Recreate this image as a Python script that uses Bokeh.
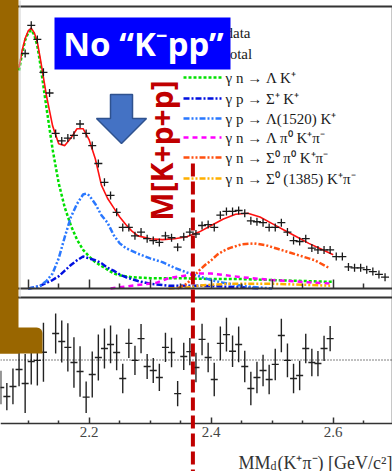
import math
from bokeh.plotting import figure
from bokeh.models import Range1d, LinearAxis, FixedTicker, Span, PrintfTickFormatter
from bokeh.core.properties import value
from bokeh.embed import file_html
from bokeh.resources import INLINE

# ---------------- measured spectrum: MM_d(K+ pi-) ----------------
data_mm = [2.095, 2.105, 2.115, 2.125, 2.135, 2.145, 2.155, 2.165, 2.175, 2.185,
           2.195, 2.205, 2.215, 2.225, 2.235, 2.245, 2.255, 2.265, 2.275, 2.285,
           2.295, 2.305, 2.315, 2.325, 2.335, 2.345, 2.355, 2.365, 2.375, 2.385,
           2.395, 2.405, 2.415, 2.425, 2.435, 2.445, 2.455, 2.465, 2.475, 2.485,
           2.495, 2.505, 2.515, 2.525, 2.535, 2.545, 2.555, 2.565, 2.575, 2.585,
           2.595, 2.605, 2.615, 2.625, 2.635, 2.645, 2.655, 2.665, 2.675, 2.685]
data_counts = [250, 280, 265, 230, 208, 165, 157, 160, 163, 175,
               165, 152, 133, 113, 99, 81, 65, 65, 56, 60,
               53, 51, 49, 56, 54, 44, 55, 60, 58, 67,
               68, 65, 78, 82, 82, 83, 80, 72, 71, 70,
               65, 65, 70, 60, 51, 50, 53, 43, 41, 41,
               41, 34, 34, 23, 22, 22, 20, 18, 15, 12]

# ---------------- fit: total and components ----------------
total_mm = [2.085, 2.09, 2.095, 2.10, 2.105, 2.11, 2.115, 2.12, 2.13, 2.14, 2.15, 2.16,
            2.17, 2.18, 2.19, 2.20, 2.21, 2.22, 2.23, 2.24, 2.25, 2.26, 2.27, 2.28,
            2.30, 2.32, 2.34, 2.36, 2.38, 2.40, 2.42, 2.44, 2.46, 2.48, 2.50, 2.52,
            2.54, 2.56, 2.58, 2.60]
total_fit = [235, 253, 266, 274, 277, 272, 262, 244, 205, 173, 154, 152,
             160, 170, 170, 158, 138, 110, 96, 86, 76, 68, 61, 56,
             53, 52, 53, 55, 60, 67, 74, 79, 80, 76, 69, 62,
             55, 48, 42, 36]

lam_k_mm = [2.085, 2.09, 2.095, 2.10, 2.105, 2.11, 2.115, 2.12, 2.125, 2.13, 2.14, 2.15,
            2.16, 2.17, 2.18, 2.19, 2.20, 2.21, 2.22, 2.23, 2.24, 2.25, 2.27, 2.30,
            2.35, 2.40, 2.45, 2.50, 2.55, 2.60]
lam_k_fit = [232, 250, 264, 272, 275, 270, 258, 238, 215, 192, 148, 112,
             86, 67, 52, 41, 34, 28, 24, 20, 16, 14, 12, 11,
             11, 10, 10, 9, 8, 7]

sig_k_mm = [2.10, 2.11, 2.12, 2.13, 2.14, 2.15, 2.16, 2.17, 2.18, 2.19, 2.20, 2.21,
            2.22, 2.23, 2.24, 2.25, 2.26, 2.27, 2.28, 2.30, 2.33, 2.38, 2.42, 2.46, 2.48]
sig_k_fit = [0, 1, 3, 6, 9, 13, 19, 25, 30, 34, 32, 30,
             27, 22, 19, 15, 12, 10, 8, 5, 3, 3, 2, 1, 0]

l1520_mm = [2.10, 2.11, 2.12, 2.13, 2.14, 2.15, 2.16, 2.17, 2.18, 2.19, 2.195, 2.20,
            2.21, 2.22, 2.23, 2.24, 2.25, 2.26, 2.28, 2.30, 2.32, 2.34, 2.36, 2.38,
            2.40, 2.42, 2.44, 2.46, 2.48, 2.50]
l1520_fit = [0, 1, 3, 8, 16, 32, 55, 76, 90, 100, 101, 99,
             90, 78, 70, 57, 48, 43, 37, 32, 28, 22, 17, 13,
             9, 6, 4, 2, 1, 0]

lpi_mm = [2.235, 2.27, 2.31, 2.33, 2.36, 2.38, 2.40, 2.45, 2.50, 2.55, 2.60]
lpi_fit = [0, 3, 6, 11, 14, 16, 16, 12, 9, 7, 5]

spi_mm = [2.345, 2.36, 2.37, 2.38, 2.39, 2.40, 2.41, 2.42, 2.43, 2.45, 2.47, 2.49,
          2.51, 2.53, 2.55, 2.57, 2.59, 2.595]
spi_fit = [0, 5, 12, 19, 25, 30, 36, 40, 43, 47, 48, 46,
           42, 38, 34, 30, 23, 22]

s1385_mm = [2.33, 2.36, 2.38, 2.40, 2.43, 2.46, 2.50, 2.55, 2.595]
s1385_fit = [0, 1, 3, 4, 5, 5, 5, 4, 3]

# ---------------- residuals ----------------
res_mm = [2.055, 2.065, 2.075, 2.085, 2.095, 2.105, 2.115, 2.125,
          2.145, 2.155, 2.165, 2.175, 2.185, 2.195, 2.205, 2.215, 2.225, 2.235,
          2.245, 2.255, 2.265, 2.275, 2.285, 2.295, 2.305, 2.315, 2.325, 2.335,
          2.345, 2.355, 2.365, 2.375, 2.385, 2.395, 2.405, 2.415, 2.425, 2.435,
          2.445, 2.455, 2.465, 2.475, 2.485, 2.495, 2.505, 2.515, 2.525, 2.535,
          2.545, 2.555, 2.565, 2.575, 2.585, 2.595]
res_val = [-1.31, -1.74, -1.26, -0.45, -1.12, -0.07, -0.02, 0.37,
           1.26, 0.88, 0.60, -0.12, -0.55, -1.77, -0.69, 0.12, 0.55, 0.74,
           0.36, -0.88, 0.79, -0.02, 1.02, -0.31, -0.50, -0.83, 0.60, 0.36,
           -1.60, 0.17, 0.40, -0.36, 0.98, 0.12, -0.93, 0.79, 1.21, 0.42,
           0.74, -0.31, -1.36, -0.83, -0.50, -0.93, -0.21, 1.17, -0.02, -0.88,
           -0.74, 0.55, -0.12, -0.17, 0.55, 1.02]
res_err = [0.80, 0.65, 0.85, 0.80, 1.40, 1.10, 1.20, 1.40,
           0.95, 1.00, 1.15, 1.20, 1.20, 0.75, 1.10, 1.10, 0.95, 0.90,
           0.85, 0.70, 0.70, 0.70, 0.70, 0.60, 0.60, 0.65, 0.70, 0.70,
           0.60, 0.65, 0.65, 0.70, 0.75, 0.70, 0.80, 0.80, 0.80, 0.75,
           0.85, 0.75, 0.80, 0.75, 0.75, 0.70, 0.75, 0.80, 0.80, 0.70,
           0.70, 0.70, 0.65, 0.60, 0.60, 0.60]

# axis ticks
x_major = [2.2, 2.4, 2.6]
x_minor = [2.05, 2.1, 2.15, 2.25, 2.3, 2.35, 2.45, 2.5, 2.55, 2.65]
top_major = [2.1, 2.2, 2.3, 2.4, 2.5, 2.6]
top_minor = [2.05, 2.15, 2.25, 2.35, 2.45, 2.55, 2.65]

kpp_threshold = 2.37   # M(K+) + 2 M(p)

legend_labels = ["data", "total", "γ n → Λ  K⁺", "γ p → Σ⁺ K⁺", "γ p → Λ(1520) K⁺",
                 "γ n → Λ π⁰ K⁺π⁻", "γ n → Σ⁰ π⁰ K⁺π⁻", "γ n → Σ⁰ (1385) K⁺π⁻"]

# ---------------- canvas geometry ----------------
W, H = 392, 471
X_REF, PX_REF, PX_PER_GEV = 2.2, 88.7, 610.0
PY_ZERO, PX_PER_COUNT = 288.0, 0.94        # upper panel: counts
PY_RES0, PX_PER_RES = 359.5, 21.0          # lower panel: residuals


def gx(px):
    return X_REF + (px - PX_REF) / PX_PER_GEV


def gy(py):
    return (PY_ZERO - py) / PX_PER_COUNT


p = figure(width=W, height=H, output_backend="svg", toolbar_location=None,
           x_range=Range1d(gx(0), gx(W)), y_range=Range1d(gy(H), gy(0)),
           x_axis_location=None, y_axis_location=None,
           min_border=0, min_border_left=0, min_border_right=0,
           min_border_top=0, min_border_bottom=0,
           outline_line_color=None, background_fill_color="white",
           border_fill_color="white")
p.grid.visible = False
p.extra_y_ranges = {"res": Range1d(-(H - PY_RES0) / PX_PER_RES, PY_RES0 / PX_PER_RES)}

serif = value("Liberation Serif")

# frame lines of the two panels
p.add_layout(Span(location=gy(6), dimension="width", line_color="#333333", line_width=2))
p.add_layout(Span(location=gy(297), dimension="width", line_color="#333333", line_width=2))
p.segment(x0=[gx(391)], y0=[gy(6)], x1=[gx(391)], y1=[gy(423)], line_color="#c8c8c8", line_width=1)
p.add_layout(Span(location=0, dimension="width", y_range_name="res",
                  line_color="black", line_dash="1 2", line_width=1))

# upper panel x axis (no labels)
top_axis = LinearAxis(fixed_location=0,
                      ticker=FixedTicker(ticks=top_major, minor_ticks=top_minor),
                      formatter=PrintfTickFormatter(format=""),
                      axis_line_color="#333333", axis_line_width=2,
                      major_tick_in=9, major_tick_out=0, minor_tick_in=5, minor_tick_out=0,
                      major_tick_line_color="#333333", minor_tick_line_color="#333333",
                      major_tick_line_width=1.5, minor_tick_line_width=1.5)
p.add_layout(top_axis, "below")

# lower panel x axis
bot_axis = LinearAxis(fixed_location=gy(423),
                      ticker=FixedTicker(ticks=x_major, minor_ticks=x_minor),
                      axis_line_color="#333333", axis_line_width=1.5,
                      major_tick_in=6, major_tick_out=0, minor_tick_in=3, minor_tick_out=0,
                      major_tick_line_color="#333333", minor_tick_line_color="#333333",
                      major_tick_line_width=1.5, minor_tick_line_width=1.5,
                      major_label_standoff=3,
                      major_label_text_font="Liberation Serif",
                      major_label_text_font_size="15px",
                      major_label_text_color="#444444")
p.add_layout(bot_axis, "below")

# ---------------- fit components ----------------
comp_style = [
    (lam_k_mm, lam_k_fit, "#00e000", "3 2"),
    (sig_k_mm, sig_k_fit, "#0010e0", "6 2 2 2"),
    (l1520_mm, l1520_fit, "#2a78ff", "6 2 2 2 2 2"),
    (lpi_mm, lpi_fit, "#ff00ff", "5 4"),
    (spi_mm, spi_fit, "#ff5010", "6 2 2 2 2 2"),
    (s1385_mm, s1385_fit, "#ffb000", "6 2 2 2 2 2"),
]
for xs, ys, col, dash in comp_style:
    p.line(xs, ys, line_color=col, line_width=2.5, line_dash=dash)

p.line(total_mm, total_fit, line_color="#ff1010", line_width=1.6)

# data points
p.scatter(data_mm, data_counts, marker="cross", size=8, line_color="#1a1a1a", line_width=1.3)

# residuals
res_lo = [v - e for v, e in zip(res_val, res_err)]
res_hi = [v + e for v, e in zip(res_val, res_err)]
p.segment(x0=res_mm, y0=res_lo, x1=res_mm, y1=res_hi, y_range_name="res",
          line_color="#222222", line_width=1.4)
p.scatter(res_mm, res_val, marker="dash", size=7, y_range_name="res",
          line_color="#222222", line_width=1.4)

# ---------------- legend ----------------
row_py = [32, 53, 77, 98, 118, 137, 157, 178]
sample_styles = [None, ("#ff1010", None)] + [(c, d) for _, _, c, d in comp_style]
for py, style in zip(row_py, sample_styles):
    if style is None:
        p.scatter([gx(202)], [gy(py)], marker="cross", size=8, line_color="#1a1a1a")
    else:
        col, dash = style
        kw = dict(line_color=col, line_width=2.5)
        if dash:
            kw["line_dash"] = dash
        p.line([gx(183), gx(221)], [gy(py), gy(py)], **kw)
p.text(x=[gx(225)] * len(legend_labels), y=[gy(py) for py in row_py], text=legend_labels,
       text_font=serif, text_font_size="15px", text_color="#1a1a1a",
       text_baseline="middle", text_align="left")

# x-axis title: MM with subscript d, then the rest
p.text(x=[gx(238)], y=[gy(462)], text=["MM"], text_font=serif, text_font_size="18px",
       text_color="#333333", text_baseline="alphabetic", text_align="left")
p.text(x=[gx(270)], y=[gy(465)], text=["d"], text_font=serif, text_font_size="12px",
       text_color="#333333", text_baseline="alphabetic", text_align="left")
p.text(x=[gx(277)], y=[gy(462)], text=["(K⁺π⁻) [GeV/c²]"], text_font=serif,
       text_font_size="18px", text_color="#333333", text_baseline="alphabetic",
       text_align="left")

# ---------------- overlay annotations ----------------
ov = dict(level="overlay")
# threshold marker
p.segment(x0=[kpp_threshold], y0=[gy(163)], x1=[kpp_threshold], y1=[gy(H + 2)],
          line_color="#c00000", line_width=4, line_dash="13 5", **ov)
p.text(x=[gx(161)], y=[gy(150)], text=["M[K+p+p]"], angle=math.pi / 2,
       text_font=value("Noto Sans"), text_font_style="bold", text_font_size="30px",
       text_color="#c00000", text_align="center", text_baseline="middle", **ov)

# down arrow
arrow_px = [(110, 94), (132, 94), (132, 118), (146, 118), (121, 143), (96, 118), (110, 118)]
p.patch([gx(a) for a, _ in arrow_px], [gy(b) for _, b in arrow_px],
        fill_color="#4472c4", line_color="#2f528f", line_width=1.5, **ov)

# side bar with foot
p.quad(left=[gx(-2)], right=[gx(18)], top=[gy(-2)], bottom=[gy(353)],
       fill_color="#996600", line_color=None, **ov)
foot_px = [(-2, 327), (36, 327)]
for k in range(1, 6):
    t = k * (math.pi / 2) / 6
    foot_px.append((36 + 6 * math.sin(t), 333 - 6 * math.cos(t)))
foot_px += [(42, 333), (42, 353), (-2, 353)]
p.patch([gx(a) for a, _ in foot_px], [gy(b) for _, b in foot_px],
        fill_color="#996600", line_color=None, **ov)
p.segment(x0=[gx(19.5)], y0=[gy(0)], x1=[gx(19.5)], y1=[gy(297)],
          line_color="#cfcfcf", line_width=1, **ov)

# banner
p.quad(left=[gx(54)], right=[gx(230)], top=[gy(17)], bottom=[gy(69)],
       fill_color="#0000ff", line_color=None, **ov)
p.text(x=[gx(143)], y=[gy(43)], text=["No “K⁻pp”"], text_font=value("Noto Sans"),
       text_font_style="bold", text_font_size="33px", text_color="white",
       text_align="center", text_baseline="middle", **ov)

open("out.html", "w").write(file_html(p, INLINE))
